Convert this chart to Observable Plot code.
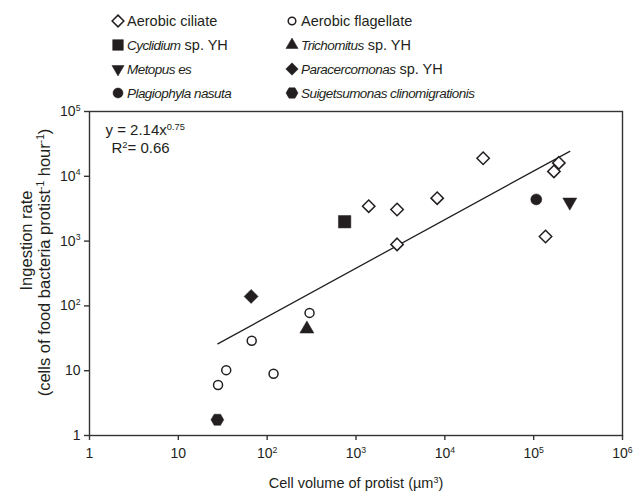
<!DOCTYPE html>
<html>
<head>
<meta charset="utf-8">
<script src="https://cdn.jsdelivr.net/npm/d3@7"></script>
<script src="https://cdn.jsdelivr.net/npm/@observablehq/plot@0.6"></script>
<style>
  body { margin: 0; background: #fff; font-family: "Liberation Sans", Arial, sans-serif; color: #231f20; }
  #wrap { position: relative; width: 633px; height: 497px; overflow: hidden; }
  #legend { position: relative; width: 633px; height: 100px; }
  .lsym { position: absolute; }
  .ltxt { position: absolute; font-size: 14.5px; line-height: 16px; white-space: nowrap; transform: translateY(-50%); }
  .ltxt i { font-size: 13.5px; letter-spacing: -0.55px; }
</style>
</head>
<body>
<div id="wrap">
  <div id="legend"></div>
  <div id="chart"></div>
</div>
<script>
// ---------- data ----------
const aerobicCiliateVol = [1390, 2900, 2900, 8200, 27000, 192000, 169000, 136000];
const aerobicCiliateRate = [3460, 3080, 890, 4600, 19000, 16100, 11900, 1180];

const aerobicFlagellateVol = [28, 34.6, 67, 118, 300];
const aerobicFlagellateRate = [6.0, 10.2, 29, 9.0, 78];

const cyclidiumVol = [745];
const cyclidiumRate = [1990];

const trichomitusVol = [280];
const trichomitusRate = [44];

const metopusVol = [255000];
const metopusRate = [4000];

const paracercomonasVol = [66];
const paracercomonasRate = [140];

const plagiophylaVol = [107000];
const plagiophylaRate = [4400];

const suigetsumonasVol = [27.5];
const suigetsumonasRate = [1.75];

// fitted power-law line end points (y = 2.14 x^0.75)
const fitVol = [27.8, 255000];
const fitRate = [26, 24300];

const xTicks = [1, 10, 100, 1e3, 1e4, 1e5, 1e6];
const xTickLabels = ["1", "10", "10^{2}", "10^{3}", "10^{4}", "10^{5}", "10^{6}"];
const yTicks = [1, 10, 100, 1e3, 1e4, 1e5];
const yTickLabels = ["1", "10", "10^{2}", "10^{3}", "10^{4}", "10^{5}"];

const seriesNames = [
  "Aerobic ciliate", "Aerobic flagellate",
  "Cyclidium sp. YH", "Trichomitus sp. YH",
  "Metopus es", "Paracercomonas sp. YH",
  "Plagiophyla nasuta", "Suigetsumonas clinomigrationis"
];
const italicParts = ["", "", "Cyclidium", "Trichomitus", "Metopus es", "Paracercomonas", "Plagiophyla nasuta", "Suigetsumonas clinomigrationis"];

const xTitle = "Cell volume of protist (µm^{3})";
const yTitle1 = "Ingestion rate";
const yTitle2 = "(cells of food bacteria protist^{-1} hour^{-1})";
const eqLine1 = "y = 2.14x^{0.75}";
const eqLine2 = "R^{2}= 0.66";

// ---------- styling ----------
const ink = "#231f20";
const hexagonFlat = {
  draw(context, size) {
    const R = Math.sqrt(size / Math.PI);
    const h = R * Math.sqrt(3) / 2;
    context.moveTo(R, 0);
    context.lineTo(R / 2, h);
    context.lineTo(-R / 2, h);
    context.lineTo(-R, 0);
    context.lineTo(-R / 2, -h);
    context.lineTo(R / 2, -h);
    context.closePath();
  }
};
const symbolFor = {
  "diamond2": d3.symbolDiamond2, "circle": d3.symbolCircle, "square": d3.symbolSquare,
  "triangle": d3.symbolTriangle
};
const series = [
  {x: aerobicCiliateVol, y: aerobicCiliateRate, symbol: "diamond2", fill: "white", r: 5.6, lr: 5.3},
  {x: aerobicFlagellateVol, y: aerobicFlagellateRate, symbol: "circle", fill: "white", r: 4.5, lr: 3.8},
  {x: cyclidiumVol, y: cyclidiumRate, symbol: "square", fill: ink, r: 7, lr: 6},
  {x: trichomitusVol, y: trichomitusRate, symbol: "triangle", fill: ink, r: 5.2, lr: 4.5},
  {x: metopusVol, y: metopusRate, symbol: "triangle", fill: ink, r: 5.2, lr: 4.5, rotate: 180},
  {x: paracercomonasVol, y: paracercomonasRate, symbol: "diamond2", fill: ink, r: 6.3, lr: 5.6},
  {x: plagiophylaVol, y: plagiophylaRate, symbol: "circle", fill: ink, r: 5.5, lr: 5},
  {x: suigetsumonasVol, y: suigetsumonasRate, symbol: hexagonFlat, fill: ink, r: 6.4, lr: 6}
];

// ---------- legend (HTML above the SVG) ----------
const legend = document.getElementById("legend");
const legColSym = [117.5, 292];
const legColTxt = [127, 301];
const legRowY = [21, 45, 69, 93];
seriesNames.forEach((name, i) => {
  const col = i % 2, row = Math.floor(i / 2);
  const s = series[i];
  const sz = 20;
  const svg = d3.create("svg").attr("class", "lsym").attr("width", sz).attr("height", sz)
    .style("left", (legColSym[col] - sz / 2) + "px").style("top", (legRowY[row] - sz / 2) + "px");
  const type = typeof s.symbol === "string" ? symbolFor[s.symbol] : s.symbol;
  svg.append("path")
    .attr("d", d3.symbol(type, Math.PI * s.lr * s.lr)())
    .attr("transform", `translate(${sz / 2},${sz / 2}) rotate(${s.rotate || 0})`)
    .attr("fill", s.fill).attr("stroke", ink).attr("stroke-width", s.fill === "white" ? 1.5 : 0.5);
  legend.appendChild(svg.node());
  const t = document.createElement("div");
  t.className = "ltxt";
  t.style.left = legColTxt[col] + "px";
  t.style.top = legRowY[row] + "px";
  const it = italicParts[i];
  if (it) {
    const rest = name.slice(it.length);
    t.innerHTML = `<i>${it}</i>${rest}`;
  } else t.textContent = name;
  legend.appendChild(t);
});

// ---------- chart ----------
const xLab = new Map(xTicks.map((d, i) => [d, xTickLabels[i]]));
const yLab = new Map(yTicks.map((d, i) => [d, yTickLabels[i]]));

const dotMarks = series.map(s => Plot.dot(s.x.map((v, i) => ({vol: v, rate: s.y[i]})), {
  x: "vol", y: "rate", symbol: s.symbol, r: s.r, fill: s.fill, stroke: ink,
  strokeWidth: s.fill === "white" ? 1.5 : 0.5, rotate: s.rotate || 0
}));

const fit = fitVol.map((v, i) => ({vol: v, rate: fitRate[i]}));

const chart = Plot.plot({
  width: 633, height: 397,
  marginTop: 11, marginRight: 11, marginBottom: 62, marginLeft: 89,
  style: {fontFamily: "'Liberation Sans', Arial, sans-serif", fontSize: "14px", color: ink, background: "white", overflow: "visible"},
  x: {type: "log", domain: [1, 1e6]},
  y: {type: "log", domain: [1, 1e5]},
  marks: [
    Plot.frame({stroke: "#333", strokeWidth: 1.4}),
    Plot.axisX({ticks: xTicks, tickFormat: d => xLab.get(d), label: null, tickSize: 5, tickPadding: 8, stroke: "#333", strokeWidth: 1.4}),
    Plot.axisY({ticks: yTicks, tickFormat: d => yLab.get(d), label: null, tickSize: 5, tickPadding: 4, stroke: "#333", strokeWidth: 1.4}),
    Plot.line(fit, {x: "vol", y: "rate", stroke: ink, strokeWidth: 1.3}),
    ...dotMarks,
    Plot.text([eqLine1], {frameAnchor: "top-left", text: d => d, dx: 16, dy: 19, lineAnchor: "middle", textAnchor: "start", fontSize: 15, fill: ink}),
    Plot.text([eqLine2], {frameAnchor: "top-left", text: d => d, dx: 22, dy: 37, lineAnchor: "middle", textAnchor: "start", fontSize: 15, fill: ink}),
    Plot.text([xTitle], {frameAnchor: "bottom", text: d => d, dy: 48, lineAnchor: "middle", textAnchor: "middle", fontSize: 14.5, fill: ink}),
    Plot.text([yTitle1], {frameAnchor: "left", text: d => d, dx: -63, dy: -33, rotate: -90, lineAnchor: "middle", textAnchor: "middle", fontSize: 16.5, fill: ink}),
    Plot.text([yTitle2], {frameAnchor: "left", text: d => d, dx: -45, dy: -11, rotate: -90, lineAnchor: "middle", textAnchor: "middle", fontSize: 16.5, fill: ink})
  ]
});

// render ^{...} as real superscripts
function applySup(root) {
  root.querySelectorAll("text").forEach(t => {
    const s = t.textContent;
    if (!s.includes("^{")) return;
    const fs = parseFloat(getComputedStyle(t).fontSize) || 13;
    const shift = fs * 0.38;
    while (t.firstChild) t.removeChild(t.firstChild);
    const re = /\^\{([^}]*)\}/g;
    let last = 0, m, raised = false;
    const ns = "http://www.w3.org/2000/svg";
    while ((m = re.exec(s))) {
      if (m.index > last) {
        const sp = document.createElementNS(ns, "tspan");
        sp.textContent = s.slice(last, m.index);
        if (raised) { sp.setAttribute("dy", shift); raised = false; }
        t.appendChild(sp);
      }
      const sup = document.createElementNS(ns, "tspan");
      sup.textContent = m[1];
      sup.setAttribute("font-size", (fs * 0.62).toFixed(1));
      if (!raised) sup.setAttribute("dy", -shift);
      raised = true;
      t.appendChild(sup);
      last = re.lastIndex;
    }
    if (last < s.length) {
      const sp = document.createElementNS(ns, "tspan");
      sp.textContent = s.slice(last);
      if (raised) sp.setAttribute("dy", shift);
      t.appendChild(sp);
    }
  });
}
document.getElementById("chart").appendChild(chart);
applySup(chart);
</script>
</body>
</html>
